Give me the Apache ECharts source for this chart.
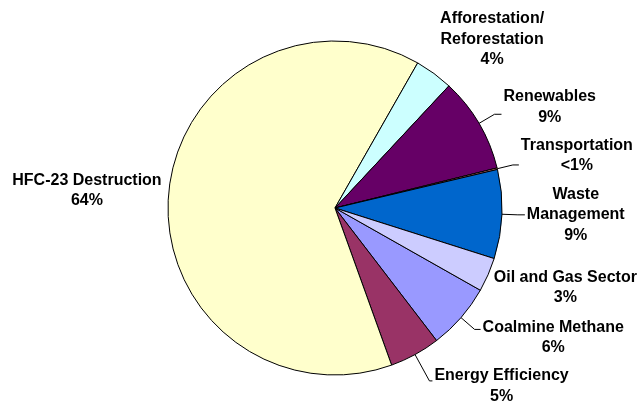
<!DOCTYPE html>
<html>
<head>
<meta charset="utf-8">
<script src="https://cdn.jsdelivr.net/npm/echarts@6/dist/echarts.min.js"></script>
<style>html,body{margin:0;padding:0;background:#fff;}#c{width:640px;height:405px;}</style>
</head>
<body>
<div id="c"></div>
<script>
const categories = ['Coalmine Methane', 'Energy Efficiency', 'HFC-23 Destruction', 'Afforestation/\nReforestation', 'Renewables', 'Transportation', 'Waste\nManagement', 'Oil and Gas Sector'];
const values = [6.4, 4.9, 63.75, 3.7, 9.2, 0.15, 8.6, 3.3];
const palette = ['#9999FF', '#993366', '#FFFFCC', '#CCFFFF', '#660066', '#FF8080', '#0066CC', '#CCCCFF'];

// label leader tuning (style only)
const labelTune = [
  { length: 18, length2: 6, line: true, padding: [16, 0, 0, 0] },
  { length: 30, length2: 3, line: true, padding: [10, 0, 0, 0] },
  { length: 3, length2: 2, line: false, padding: [0, 0, 6, 0] },
  { length: 7, length2: 0, line: false, padding: [0, 0, 57, 0] },
  { length: 18, length2: 7, line: true, padding: [0, 0, 14, 0] },
  { length: 16, length2: 6, line: true, padding: [0, 0, 19, 0] },
  { length: 16, length2: 7, line: true },
  { length: 4, length2: 0, line: false, padding: [22, 0, 0, 0] }
];

const total = values.reduce((a, b) => a + b, 0);
const data = categories.map((name, i) => {
  const t = labelTune[i];
  return {
    name: name,
    value: values[i],
    labelLine: { show: t.line, length: t.length, length2: t.length2 },
    label: t.padding ? { padding: t.padding } : {}
  };
});

const chart = echarts.init(document.getElementById('c'));
chart.setOption({
  backgroundColor: '#ffffff',
  color: palette,
  animation: false,
  series: [{
    type: 'pie',
    left: 0, top: 0, width: 1000, height: 405,
    center: [335, 208],
    radius: 167,
    startAngle: -29.5,
    clockwise: true,
    avoidLabelOverlap: false,
    itemStyle: { borderColor: '#000', borderWidth: 1 },
    label: {
      show: true,
      position: 'outside',
      distanceToLabelLine: 2,
      overflow: 'none',
      formatter: function (p) {
        const pct = (p.value / total) * 100;
        const txt = pct < 1 ? '<1%' : Math.round(pct) + '%';
        return p.name.split('\n').map(s => '{a|' + s + '}').join('\n') + '\n{a|' + txt + '}';
      },
      rich: {
        a: { align: 'center', fontFamily: 'Liberation Sans, Arial, sans-serif', fontWeight: 'bold', fontSize: 16, lineHeight: 20.5, color: '#000' }
      }
    },
    labelLine: { lineStyle: { color: '#000', width: 1 }, smooth: false },
    emphasis: { disabled: true },
    data: data
  }]
});
</script>
</body>
</html>
